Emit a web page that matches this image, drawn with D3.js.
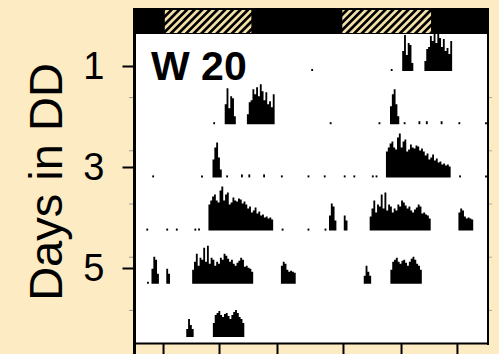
<!DOCTYPE html>
<html>
<head>
<meta charset="utf-8">
<script src="https://cdn.jsdelivr.net/npm/d3@7"></script>
<style>
  html, body { margin: 0; padding: 0; background: #FDEBC3; }
  svg { display: block; }
  text { font-family: "Liberation Sans", Arial, sans-serif; }
</style>
</head>
<body>
<svg id="chart" width="499" height="354"></svg>
<script>
// ---------------- data ----------------
// activity bouts per day: [start hour, counts per 15-min bin]
const binHours = 0.25;
const day1 = [];
const day2 = [[0.1, [2]], [10.85, [2]], [12.4, [20, 36, 16, 28, 26, 8]],
  [15.4, [10, 22, 24, 35, 30, 37, 28, 40, 33, 24, 32, 20, 23, 17, 30]]];
const day3 = [[2.6, [2]], [9.2, [2]], [10.75, [18, 30, 35, 20, 8]], [12.6, [2]], [14.6, [3]],
  [15.6, [3]], [17.6, [3]], [20.0, [2]], [23.6, [2]]];
const day4 = [[1.8, [2]], [4.5, [2]], [5.8, [2]], [8.3, [2]], [8.8, [2]],
  [10.2, [26, 30, 34, 36, 30, 28, 40, 44, 30, 36, 38, 26, 28, 33, 30, 29, 32, 31, 27, 29, 26, 22, 24, 18, 20, 23, 17, 19, 15, 16, 13, 14, 12, 13, 11]],
  [20.1, [2]], [23.6, [2]]];
const day5 = [[1.9, [2]], [2.5, [15, 27, 24, 10]], [4.5, [15, 10]],
  [8.0, [14, 22, 30, 18, 26, 24, 36, 22, 38, 20, 26, 24, 18, 22, 20, 26, 24, 30, 28, 25, 22, 24, 20, 18, 21, 23, 26, 24, 17, 18, 16, 15, 12]],
  [20.0, [18, 22, 20, 14, 12, 13, 12, 11]]];
const day6 = [[7.2, [8, 18, 12, 8]],
  [10.8, [14, 22, 24, 26, 22, 20, 23, 24, 21, 18, 22, 25, 27, 24, 20, 18, 14]]];
const day7 = [];
const days = [day1, day2, day3, day4, day5, day6, day7];
const rows = [1, 2, 3, 4, 5, 6];
const dayTicks = [1, 3, 5];
const hourTicks = [4.06, 11.63, 19.47, 28.39, 36.24, 43.8];
const lightPhases = [[4.3, 16.0], [28.3, 40.3]];
const label = "W 20";
const yTitle = "Days in DD";

// ---------------- drawing ----------------
(function () {
const svg = d3.select("#chart");
const W = 499, H = 354;
const pL = 133, pR = 488, pT = 34, pB = 343;

svg.append("rect").attr("width", W).attr("height", H).attr("fill", "#FDEBC3");

const x = d3.scaleLinear().domain([0, 48]).range([pL, pR]);
const rowBase = d3.scaleLinear().domain([1, 6]).range([71, 337]);
const hS = d3.scaleLinear().domain([0, 50]).range([0, 50]);
const yDay = d3.scaleLinear().domain([1, 5]).range([66, 268]);

// plot background
svg.append("rect").attr("x", pL).attr("y", pT).attr("width", pR - pL).attr("height", pB - pT).attr("fill", "#ffffff");

// hatch pattern
const defs = svg.append("defs");
const pat = defs.append("pattern").attr("id", "hatch").attr("patternUnits", "userSpaceOnUse")
  .attr("width", 5.4).attr("height", 5.4).attr("patternTransform", "rotate(45)");
pat.append("rect").attr("width", 5.4).attr("height", 5.4).attr("fill", "#000");
pat.append("rect").attr("width", 2.7).attr("height", 5.4).attr("fill", "#F2E0A8");

// top light bar
svg.append("rect").attr("x", pL).attr("y", 8).attr("width", pR + 1 - pL).attr("height", 26).attr("fill", "#000");
svg.selectAll("rect.phase").data(lightPhases).join("rect").attr("class", "phase")
  .attr("x", d => x(d[0])).attr("width", d => x(d[1]) - x(d[0]))
  .attr("y", 10).attr("height", 23).attr("fill", "url(#hatch)");

// activity bouts as step areas
const bouts = [];
rows.forEach(r => {
  [0, 1].forEach(half => {
    const day = days[r - 1 + half];
    day.forEach(([start, vals]) => {
      const pts = vals.map((v, i) => ({ h: start + i * binHours + half * 24, v }));
      pts.push({ h: start + vals.length * binHours + half * 24, v: vals[vals.length - 1] });
      bouts.push({ r, pts });
    });
  });
});
svg.append("g").selectAll("path").data(bouts).join("path")
  .attr("d", b => d3.area().curve(d3.curveStepAfter)
    .x(p => x(p.h)).y0(rowBase(b.r)).y1(p => rowBase(b.r) - hS(p.v))(b.pts))
  .attr("fill", "#000");

// minor ticks between rows
const mids = d3.range(1, 6).map(r => (rowBase(r) + rowBase(r + 1)) / 2);
svg.append("g").selectAll("line").data(mids).join("line")
  .attr("x1", pL - 4).attr("x2", pL).attr("y1", d => d).attr("y2", d => d)
  .attr("stroke", "#999").attr("stroke-width", 1);
svg.append("g").selectAll("line").data(mids).join("line")
  .attr("x1", pR).attr("x2", pR + 4).attr("y1", d => d).attr("y2", d => d)
  .attr("stroke", "#aaa").attr("stroke-width", 1);

// right frame
svg.append("line").attr("x1", pR).attr("x2", pR).attr("y1", 30).attr("y2", pB + 2)
  .attr("stroke", "#000").attr("stroke-width", 2);

// bottom axis
const xAxis = svg.append("g").attr("transform", `translate(0,${pB})`)
  .call(d3.axisBottom(x).tickValues(hourTicks).tickSize(14).tickSizeOuter(0).tickFormat(""));
xAxis.selectAll("path,line").attr("stroke", "#000").attr("stroke-width", 2);

// left axis
const yAxis = svg.append("g").attr("transform", `translate(${pL + 1.5},0)`)
  .call(d3.axisLeft(yDay).tickValues(dayTicks).tickFormat(d3.format("d")).tickSize(12).tickPadding(18));
yAxis.select(".domain").remove();
yAxis.selectAll("line").attr("stroke", "#000").attr("stroke-width", 2);
yAxis.selectAll("text").attr("font-size", 38).attr("fill", "#000")
  .attr("font-family", "'Liberation Sans', Arial, sans-serif");
svg.append("line").attr("x1", pL + 1.5).attr("x2", pL + 1.5).attr("y1", pT).attr("y2", H)
  .attr("stroke", "#000").attr("stroke-width", 3);

// label
svg.append("text").attr("x", 151).attr("y", 80).attr("font-size", 41).attr("font-weight", "bold")
  .attr("fill", "#000").text(label);

// y title
svg.append("text").attr("transform", "translate(62,182) rotate(-90)")
  .attr("text-anchor", "middle").attr("font-size", 47).attr("fill", "#000").text(yTitle);
})();
</script>
</body>
</html>
